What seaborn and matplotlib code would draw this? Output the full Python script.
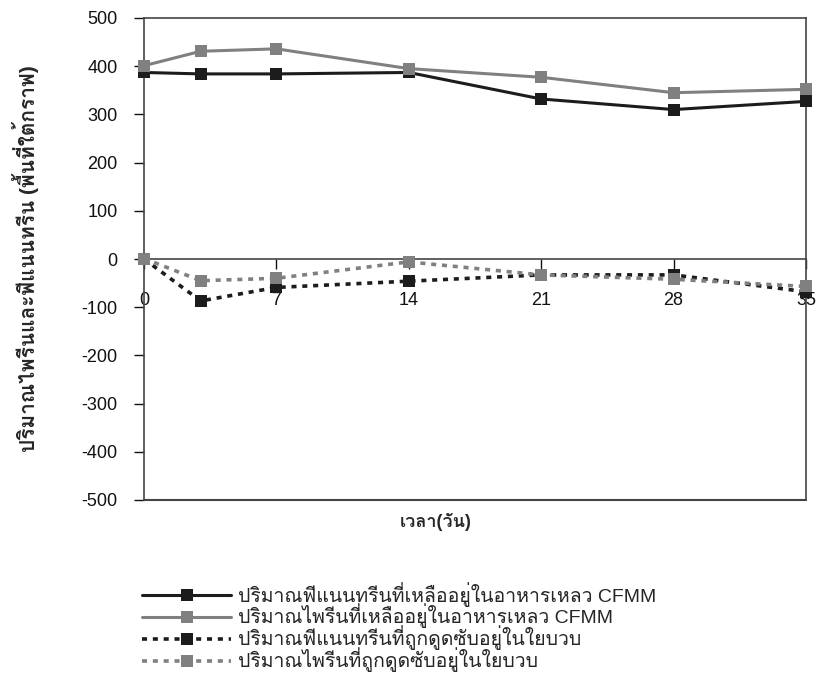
import matplotlib
matplotlib.use("Agg")
import matplotlib.pyplot as plt
import seaborn as sns
import pandas as pd
from matplotlib import font_manager
from matplotlib.ft2font import FT2Font

days = [0, 3, 7, 14, 21, 28, 35]
phen_liquid = [387, 384, 384, 387, 332, 310, 327]
pyr_liquid = [401, 431, 436, 395, 377, 345, 352]
phen_fiber = [0, -87, -59, -46, -33, -33, -68]
pyr_fiber = [1, -45, -40, -6, -33, -42, -57]

labels = [
    "ปริมาณฟีแนนทรีนที่เหลืออยู่ในอาหารเหลว CFMM",
    "ปริมาณไพรีนที่เหลืออยู่ในอาหารเหลว CFMM",
    "ปริมาณฟีแนนทรีนที่ถูกดูดซับอยู่ในใยบวบ",
    "ปริมาณไพรีนที่ถูกดูดซับอยู่ในใยบวบ",
]
xticks = [0, 7, 14, 21, 28, 35]
yticks = list(range(-500, 501, 100))
ylabel = "ปริมาณไพรีนและฟีแนนทรีน (พื้นที่ใต้กราฟ)"
xlabel = "เวลา(วัน)"

sns.set_theme(style="white")

# find a font with Thai glyphs
thai_font = None
for f in font_manager.fontManager.ttflist:
    try:
        cm = FT2Font(f.fname).get_charmap()
        if 0x0E1B in cm and 0x0E35 in cm:
            thai_font = f.name
            break
    except Exception:
        pass
fams = ["Liberation Sans"] + ([thai_font] if thai_font else []) + ["DejaVu Sans"]
plt.rcParams["font.family"] = fams
plt.rcParams["axes.unicode_minus"] = False

fig = plt.figure(figsize=(8.2, 6.73), dpi=100)
ax = fig.add_axes([144 / 820, 1 - 500 / 673, 662 / 820, 482 / 673])

series = [phen_liquid, pyr_liquid, phen_fiber, pyr_fiber]
colors = ["#1c1c1c", "#808080", "#1c1c1c", "#808080"]
styles = ["-", "-", (0, (1.4, 1.6)), (0, (1.4, 1.6))]
order = [2, 3, 0, 1]
for i in order:
    df = pd.DataFrame({"day": days, "val": series[i]})
    sns.lineplot(data=df, x="day", y="val", ax=ax, color=colors[i],
                 linestyle=styles[i], linewidth=2.2 if i < 2 else 2.6,
                 marker="s", markersize=9, markeredgewidth=0,
                 label=labels[i], clip_on=False, zorder=3 + i)

ax.set_xlim(0, 35)
ax.set_ylim(-500, 500)
ax.set_xticks(xticks)
ax.set_yticks(yticks)
ax.tick_params(axis="both", labelsize=13, colors="#111111", length=7, width=1,
               direction="out")
ax.tick_params(axis="y", left=True, pad=12)
ax.tick_params(axis="x", bottom=True, pad=17)
ax.spines["bottom"].set_position(("data", 0))
for s in ax.spines.values():
    s.set_color("#444444")
    s.set_linewidth(1.2)
ax.axhline(-500, color="#444444", linewidth=1.5, clip_on=False, zorder=1)

ax.set_xlabel("")
ax.set_ylabel(ylabel, fontsize=15, fontweight="bold", labelpad=12)
ax.yaxis.set_label_coords(-105 / 662, 0.5)
fig.text(436 / 820, 1 - 522 / 673, xlabel, fontsize=13, fontweight="bold",
         ha="center", va="center")

handles, labs = ax.get_legend_handles_labels()
hmap = dict(zip(labs, handles))
ax.get_legend().remove()
fig.legend([hmap[l] for l in labels], labels, loc="upper left",
           bbox_to_anchor=(134 / 820, 1 - 574 / 673), frameon=False,
           fontsize=14, handlelength=4.6, handletextpad=0.35, labelspacing=-0.15,
           borderaxespad=0)

fig.savefig("out.png", dpi=100)
